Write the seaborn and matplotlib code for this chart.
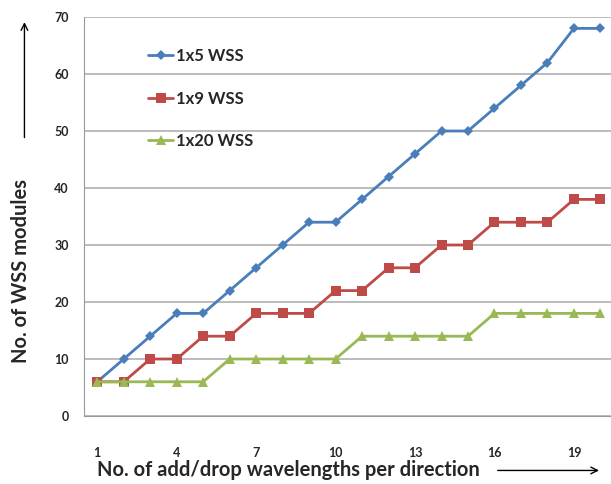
import pandas as pd
import matplotlib
matplotlib.use("Agg")
import matplotlib.pyplot as plt
import seaborn as sns

# number of add/drop wavelengths per direction
wavelengths = list(range(1, 21))
wss_1x5 = [6, 10, 14, 18, 18, 22, 26, 30, 34, 34, 38, 42, 46, 50, 50, 54, 58, 62, 68, 68]
wss_1x9 = [6, 6, 10, 10, 14, 14, 18, 18, 18, 22, 22, 26, 26, 30, 30, 34, 34, 34, 38, 38]
wss_1x20 = [6, 6, 6, 6, 6, 10, 10, 10, 10, 10, 14, 14, 14, 14, 14, 18, 18, 18, 18, 18]
series = ["1x5 WSS", "1x9 WSS", "1x20 WSS"]
xticks = [1, 4, 7, 10, 13, 16, 19]

df = pd.DataFrame({
    "x": wavelengths * 3,
    "y": wss_1x5 + wss_1x9 + wss_1x20,
    "s": [series[0]] * 20 + [series[1]] * 20 + [series[2]] * 20,
})

sns.set_style("white")
plt.rcParams["font.family"] = ["Lato", "DejaVu Sans"]
plt.rcParams["font.weight"] = "bold"

fig = plt.figure(figsize=(6.11, 4.84), dpi=100)
ax = fig.add_axes([84 / 611, 68 / 484, 1 - 84 / 611, 399 / 484])

colors = {"1x5 WSS": "#4A7EBB", "1x9 WSS": "#BE4B48", "1x20 WSS": "#98B954"}
markers = {"1x5 WSS": "D", "1x9 WSS": "s", "1x20 WSS": "^"}
sizes = {"1x5 WSS": 5, "1x9 WSS": 7, "1x20 WSS": 7}
for name in series:
    sns.lineplot(data=df[df.s == name], x="x", y="y", color=colors[name],
                 marker=markers[name], markersize=sizes[name], markeredgewidth=0,
                 linewidth=2, label=name, ax=ax)

ax.set_xlim(0.5, 20.4)
ax.set_ylim(0, 70)
ax.set_yticks(range(0, 71, 10))
ax.set_xticks(xticks)
ax.set_xticks([i + 0.5 for i in range(0, 20)], minor=True)
ax.tick_params(axis="x", which="major", length=0, pad=22, labelsize=9)
ax.tick_params(axis="x", which="minor", length=5, color="#888888", width=1, direction="out")
ax.tick_params(axis="y", length=5, color="#888888", labelsize=9, pad=6, direction="out")
ax.yaxis.grid(True, color="#b0b0b0", linewidth=1.2)
ax.set_axisbelow(True)
for s in ["top", "right"]:
    ax.spines[s].set_visible(False)
for s in ["left", "bottom"]:
    ax.spines[s].set_color("#999999")
ax.set_xlabel("")
ax.set_ylabel("")

ax.legend(loc="upper left", bbox_to_anchor=(0.093, 0.96), frameon=False,
          labelspacing=1.6, handlelength=1.5, handletextpad=0.2,
          prop={"weight": "bold", "size": 12})

fig.text(0.159, 0.028, "No. of add/drop wavelengths per direction", fontsize=14.5,
         fontweight="bold", ha="left", va="center")
fig.text(0.035, 0.44, "No. of WSS modules", fontsize=14.5, fontweight="bold",
         rotation=90, ha="center", va="center")
fig.patches.append(matplotlib.patches.FancyArrowPatch(
    (0.81, 0.028), (0.985, 0.028), transform=fig.transFigure,
    arrowstyle="->", mutation_scale=12, color="black", lw=1))
fig.patches.append(matplotlib.patches.FancyArrowPatch(
    (0.04, 0.71), (0.04, 0.96), transform=fig.transFigure,
    arrowstyle="->", mutation_scale=12, color="black", lw=1))

fig.savefig("out.png", dpi=100)
